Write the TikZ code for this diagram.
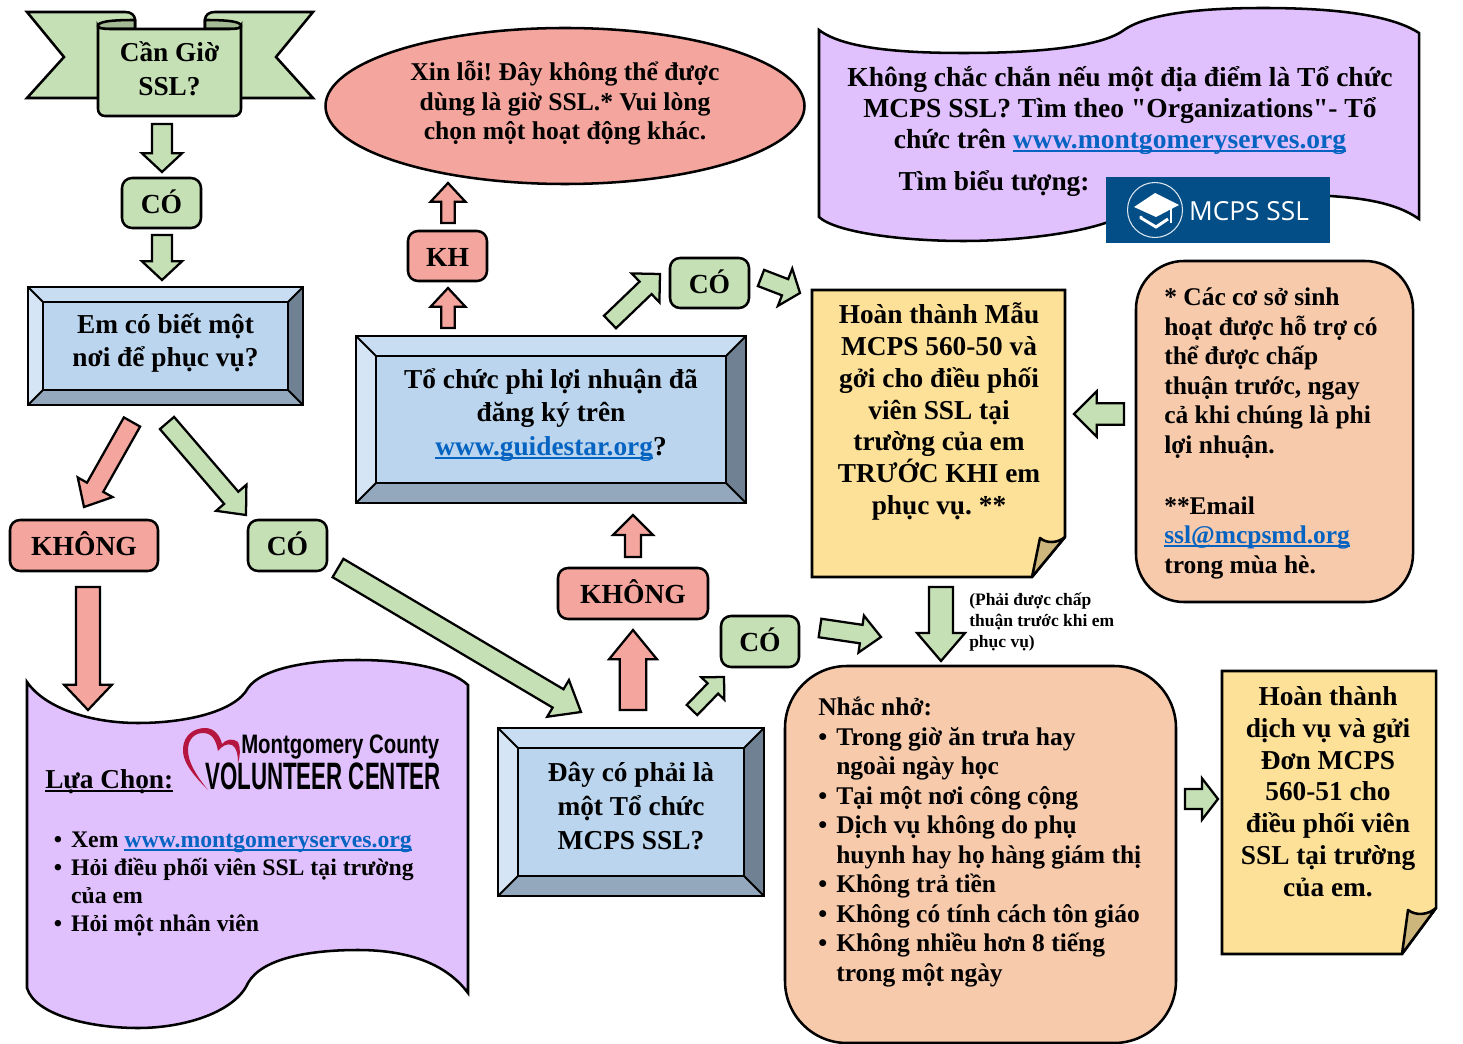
\documentclass[tikz,border=0pt]{standalone}
\usepackage{fontspec}
\setmainfont{Liberation Serif}[Ligatures=TeXOff]
\newfontfamily\logofont{Open Sans}
\newfontfamily\volfont{Liberation Sans}
\usetikzlibrary{calc,shapes.geometric}
\definecolor{gfill}{HTML}{C5E0B4}
\definecolor{gdark}{HTML}{A3BA94}
\definecolor{rfill}{HTML}{F4A69E}
\definecolor{pfill}{HTML}{E0C1FE}
\definecolor{ofill}{HTML}{F7CAAC}
\definecolor{yfill}{HTML}{FEE198}
\definecolor{yfold}{HTML}{CDB67B}
\definecolor{bface}{HTML}{BBD5EE}
\definecolor{btop}{HTML}{C8DDF2}
\definecolor{blite}{HTML}{D6E5F5}
\definecolor{bdark}{HTML}{6F8193}
\definecolor{bmid}{HTML}{93A7BD}
\definecolor{linkblue}{HTML}{0563C1}
\definecolor{logoblue}{HTML}{044E87}
\definecolor{heart}{HTML}{B5163F}
\frenchspacing
\newcommand\fs[2]{\fontsize{#1}{#2}\selectfont\bfseries}
\newcommand\lnk[1]{\begingroup\color{linkblue}\sbox0{#1}\rlap{\rule[-0.13em]{\wd0}{0.08em}}\usebox0\endgroup}
\newcommand\ulin[1]{\begingroup\sbox0{#1}\rlap{\rule[-0.16em]{\wd0}{0.08em}}\usebox0\endgroup}
\newcommand\bul{\makebox[13.5pt][l]{\textbullet}}
\newcommand\hng{\hspace*{13.5pt}}
\tikzset{
  ln/.style={draw=black,line width=1.9pt,line join=miter},
  lab/.style={ln,rounded corners=7.5pt,inner sep=0pt,font=\fs{20.7}{24},text height=15.4pt,text depth=0pt},
  greenlab/.style={lab,fill=gfill},
  redlab/.style={lab,fill=rfill},
  softbox/.style={ln,fill=ofill},
  wavedoc/.style={ln,fill=pfill},
  notedoc/.style={ln,fill=yfill,line join=miter},
  foldpart/.style={ln,fill=yfold,line join=round},
  body/.style={align=center,inner sep=0pt,font=\fs{20.5}{23.8}},
  bevelbody/.style={align=center,inner sep=0pt,font=\fs{20.5}{25.3}},
  leftbody/.style={align=left,inner sep=0pt,font=\fs{19.1}{22.1}},
}
% block arrow between two named coordinates: from,to,fill,half shaft,half head,head length (pt)
\newcommand\blockarrow[6]{%
  \coordinate (ba) at ($(#2)!#6pt!(#1)$);
  \draw[ln,fill=#3,line width=1.7pt]
    ($(#1)!#4pt!90:(#2)$) -- ($(ba)!#4pt!-90:(#1)$) -- ($(ba)!#5pt!-90:(#1)$) -- (#2)
    -- ($(ba)!#5pt!90:(#1)$) -- ($(ba)!#4pt!90:(#1)$) -- ($(#1)!#4pt!-90:(#2)$) -- cycle;}
% bevel box: name,x1,y1,x2,y2,depth,text,text y offset
\newcommand\bevel[8]{%
  \fill[btop] (#2,#3) -- (#4,#3) -- ($(#4,#3)+(-#6,#6)$) -- ($(#2,#3)+(#6,#6)$) -- cycle;
  \fill[blite] (#2,#3) -- (#2,#5) -- ($(#2,#5)+(#6,-#6)$) -- ($(#2,#3)+(#6,#6)$) -- cycle;
  \fill[bdark] (#4,#3) -- (#4,#5) -- ($(#4,#5)+(-#6,-#6)$) -- ($(#4,#3)+(-#6,#6)$) -- cycle;
  \fill[bmid] (#2,#5) -- (#4,#5) -- ($(#4,#5)+(-#6,-#6)$) -- ($(#2,#5)+(#6,-#6)$) -- cycle;
  \draw[ln,fill=bface,line width=1.5pt] ($(#2,#3)+(#6,#6)$) rectangle ($(#4,#5)+(-#6,-#6)$);
  \draw[ln,line width=1.5pt] (#2,#3) -- ($(#2,#3)+(#6,#6)$) (#4,#3) -- ($(#4,#3)+(-#6,#6)$)
     (#2,#5) -- ($(#2,#5)+(#6,-#6)$) (#4,#5) -- ($(#4,#5)+(-#6,-#6)$);
  \draw[ln] (#2,#3) rectangle (#4,#5);
  \node[bevelbody] (#1) at ($(#2,#3)!.5!(#4,#5)+(0,#8)$) {#7};}
\begin{document}
\begin{tikzpicture}[x=0.75pt,y=-0.75pt]
\useasboundingbox (0,0) rectangle (1463,1044);
\fill[white] (0,0) rectangle (1463,1044);

% ribbon
\draw[ln,fill=gfill,line join=miter] (27,12) -- (125,12) .. controls (131,12) and (135,15) .. (135,20) -- (135,40) -- (98,98) -- (27,98) -- (64,57) -- cycle;
\draw[ln,fill=gfill,line join=miter] (313,12) -- (215,12) .. controls (209,12) and (205,15) .. (205,20) -- (205,40) -- (241,98) -- (313,98) -- (276,57) -- cycle;
\draw[ln,fill=gdark] (98,26) .. controls (98,22) and (108,20) .. (135,20) -- (135,29) -- (110,29) .. controls (102,29) and (98,28) .. (98,26) -- cycle;
\draw[ln,fill=gdark] (241,26) .. controls (241,22) and (231,20) .. (205,20) -- (205,29) -- (230,29) .. controls (237,29) and (241,28) .. (241,26) -- cycle;
\draw[ln,fill=gfill] (98,26) -- (98,109) .. controls (98,113) and (101,116) .. (105,116) -- (234,116) .. controls (238,116) and (241,113) .. (241,109) -- (241,26) .. controls (241,28) and (237,29) .. (230,29) -- (110,29) .. controls (102,29) and (98,28) .. (98,26) -- cycle;
\node[body,font=\fs{20.5}{25.5}] (need) at (169.5,69) {Cần Giờ\\SSL?};

% small labels
\node[greenlab,minimum width=79*0.75pt,minimum height=50*0.75pt] (co1) at (161.5,203) {CÓ};
\node[greenlab,minimum width=79*0.75pt,minimum height=51*0.75pt] (co2) at (287.5,545.5) {CÓ};
\node[greenlab,minimum width=79*0.75pt,minimum height=50*0.75pt] (co3) at (709.5,283) {CÓ};
\node[greenlab,minimum width=78*0.75pt,minimum height=51*0.75pt] (co4) at (760,641.5) {CÓ};
\node[redlab,minimum width=148*0.75pt,minimum height=51*0.75pt] (kh1) at (84,545.5) {KHÔNG};
\node[redlab,minimum width=79*0.75pt,minimum height=50*0.75pt] (kh) at (447.5,256) {KH};
\node[redlab,minimum width=150*0.75pt,minimum height=51*0.75pt] (kh2) at (633,593.5) {KHÔNG};

% ellipse
\node[ellipse,ln,fill=rfill,minimum width=479*0.75pt,minimum height=156*0.75pt,inner sep=0pt] (sorry) at (565,106) {};
\node[align=center,inner sep=0pt,font=\fs{19.2}{22.1}] (sorrytext) at (565,103.5) {Xin lỗi! Đây không thể được\\dùng là giờ SSL.* Vui lòng\\chọn một hoạt động khác.};

% bevel boxes
\bevel{q1}{28}{287}{303}{405}{15}{Em có biết một\\nơi để phục vụ?}{-3}
\bevel{q2}{356}{336}{746}{503}{20}{Tổ chức phi lợi nhuận đã\\đăng ký trên\\\lnk{www.guidestar.org}?}{-4.5}
\bevel{q3}{498}{728}{764}{896}{20}{Đây có phải là\\một Tổ chức\\MCPS SSL?}{-6}

% top right wave doc
\draw[wavedoc] (819,30) .. controls (845,50) and (910,53) .. (964,53) .. controls (1030,53) and (1100,48) .. (1124,30) .. controls (1150,12) and (1210,8) .. (1263,8) .. controls (1330,8) and (1390,14) .. (1419,33) -- (1419,219) .. controls (1395,202) and (1360,198) .. (1330,196) .. controls (1250,192) and (1160,200) .. (1124,215) .. controls (1095,232) and (1020,241) .. (964,241) .. controls (900,241) and (835,232) .. (819,217) -- cycle;
\node[body,font=\fs{20.65}{23.4}] (unsure) at (1120,110.5) {Không chắc chắn nếu một địa điểm là Tổ chức\\MCPS SSL? Tìm theo "Organizations"- Tổ\\chức trên \lnk{www.montgomeryserves.org}};
\node[body] (findicon) at (994,184) {Tìm biểu tượng:};
\node[fill=logoblue,minimum width=224*0.75pt,minimum height=66*0.75pt,inner sep=0pt] (mcpslogo) at (1218,210) {};
\draw[white!85!logoblue,line width=0.8pt] (1155,210) circle[radius=27.5];
\fill[white] (1134,207) -- (1155,193) -- (1179,205) -- (1156,217) -- cycle;
\draw[white,line width=2.2pt] (1141,216) -- (1141,218) -- (1156,227) -- (1168,219);
\draw[white,line width=1.4pt] (1171,205) -- (1171,223);
\node[text=white,inner sep=0pt,font=\logofont\fontsize{19.7}{24}\selectfont] (mcpstext) at (1249,211) {MCPS SSL};

% yellow note 1
\draw[notedoc] (812,290) -- (1065,290) -- (1065,537) -- (1032,577) -- (812,577) -- cycle;
\draw[foldpart] (1032,577) -- (1040,538) .. controls (1047,544) and (1058,543) .. (1065,537) -- cycle;
\node[body] (form50) at (939,411.5) {Hoàn thành Mẫu\\MCPS 560-50 và\\gởi cho điều phối\\viên SSL tại\\trường của em\\TRƯỚC KHI em\\phục vụ. **};

% orange note
\draw[softbox,rounded corners=48*0.75pt] (1136,261) rectangle (1413,602);
\node[leftbody,anchor=north west] (prior) at (1164,288) {* Các cơ sở sinh\\hoạt được hỗ trợ có\\thể được chấp\\thuận trước, ngay\\cả khi chúng là phi\\lợi nhuận.\\[23.6pt]**Email\\\lnk{ssl@mcpsmd.org}\\trong mùa hè.};

% small note
\node[align=left,inner sep=0pt,anchor=north west,font=\fs{13.1}{15.7}] (approved) at (969,593) {(Phải được chấp\\thuận trước khi em\\phục vụ)};

% reminders
\draw[softbox,rounded corners=62*0.75pt] (785,666) rectangle (1176,1043);
\node[leftbody,anchor=north west] (remind) at (818,697) {Nhắc nhở:\\\bul Trong giờ ăn trưa hay\\\hng ngoài ngày học\\\bul Tại một nơi công cộng\\\bul Dịch vụ không do phụ\\\hng huynh hay họ hàng giám thị\\\bul Không trả tiền\\\bul Không có tính cách tôn giáo\\\bul Không nhiều hơn 8 tiếng\\\hng trong một ngày};

% yellow note 2
\draw[notedoc] (1222,671) -- (1436,671) -- (1436,908) -- (1402,954) -- (1222,954) -- cycle;
\draw[foldpart] (1402,954) -- (1408,910) .. controls (1416,916) and (1428,915) .. (1436,908) -- cycle;
\node[body] (form51) at (1328,791.5) {Hoàn thành\\dịch vụ và gửi\\Đơn MCPS\\560-51 cho\\điều phối viên\\SSL tại trường\\của em.};

% bottom left wave doc
\draw[wavedoc] (27,682) .. controls (45,708) and (90,723) .. (138,723) .. controls (185,723) and (235,712) .. (248,688) .. controls (262,668) and (310,660) .. (358,660) .. controls (405,660) and (450,668) .. (468,685) -- (468,993) .. controls (445,962) and (405,950) .. (358,950) .. controls (310,950) and (262,958) .. (248,983) .. controls (235,1012) and (185,1028) .. (138,1028) .. controls (90,1028) and (35,1015) .. (27,988) -- cycle;
\node[inner sep=0pt,anchor=base west,font=\fs{20.5}{24}] (choice) at (45,788) {\ulin{Lựa Chọn:}};
\node[inner sep=0pt,anchor=north west,align=left,font=\fs{17.8}{21}] (options) at (53.5,832) {\makebox[13pt][l]{\textbullet}Xem \lnk{www.montgomeryserves.org}\\\makebox[13pt][l]{\textbullet}Hỏi điều phối viên SSL tại trường\\\hspace*{13pt}của em\\\makebox[13pt][l]{\textbullet}Hỏi một nhân viên};

% volunteer centre logo
\fill[heart] (208,790) .. controls (190,772) and (182,760) .. (183,748) .. controls (184,735) and (194,728) .. (205,728) .. controls (214,728) and (220,735) .. (222,744) .. controls (226,739) and (233,738) .. (238,742) .. controls (241,748) and (240,757) .. (238,763) .. controls (238,755) and (237,748) .. (232,745) .. controls (227,743) and (222,746) .. (218,751) .. controls (216,740) and (212,733) .. (203,733) .. controls (194,733) and (188,740) .. (188,750) .. controls (188,762) and (196,775) .. (208,790) -- cycle;
\node[inner sep=0pt,anchor=base west] (vc1) at (241,753) {\resizebox{148.5pt}{14pt}{\volfont\bfseries Montgomery County}};
\node[inner sep=0pt,anchor=base west] (vc2) at (205,789) {\resizebox{176.5pt}{20pt}{\volfont\bfseries VOLUNTEER CENTER}};

% block arrows
\coordinate (a1s) at (162,124); \coordinate (a1e) at (162,172);
\blockarrow{a1s}{a1e}{gfill}{7.5}{15}{14}
\coordinate (a2s) at (162,235); \coordinate (a2e) at (162,280);
\blockarrow{a2s}{a2e}{gfill}{7.5}{15}{14}
\coordinate (a3s) at (132,422); \coordinate (a3e) at (84,507);
\blockarrow{a3s}{a3e}{rfill}{7}{15}{17}
\coordinate (a4s) at (167,423); \coordinate (a4e) at (246,515);
\blockarrow{a4s}{a4e}{gfill}{7}{15}{17}
\coordinate (a5s) at (88,587); \coordinate (a5e) at (88,710);
\blockarrow{a5s}{a5e}{rfill}{9}{18}{19}
\coordinate (a6s) at (338,568); \coordinate (a6e) at (581,712);
\blockarrow{a6s}{a6e}{gfill}{8}{16}{20}
\coordinate (a7s) at (633,710); \coordinate (a7e) at (633,630);
\blockarrow{a7s}{a7e}{rfill}{10}{18}{22}
\coordinate (a8s) at (692,710); \coordinate (a8e) at (724,677);
\blockarrow{a8s}{a8e}{gfill}{5.5}{12}{12}
\coordinate (a9s) at (820,628); \coordinate (a9e) at (881,637);
\blockarrow{a9s}{a9e}{gfill}{7}{14}{15}
\coordinate (a10s) at (941,587); \coordinate (a10e) at (941,661);
\blockarrow{a10s}{a10e}{gfill}{9}{18}{21}
\coordinate (a11s) at (633,557); \coordinate (a11e) at (633,515);
\blockarrow{a11s}{a11e}{rfill}{6}{15}{15}
\coordinate (a12s) at (448,328); \coordinate (a12e) at (448,288);
\blockarrow{a12s}{a12e}{rfill}{5}{13}{14}
\coordinate (a13s) at (448,223); \coordinate (a13e) at (448,183);
\blockarrow{a13s}{a13e}{rfill}{5}{13}{14}
\coordinate (a14s) at (610,322); \coordinate (a14e) at (660,274);
\blockarrow{a14s}{a14e}{gfill}{6.5}{15}{15}
\coordinate (a15s) at (761,278); \coordinate (a15e) at (800,293);
\blockarrow{a15s}{a15e}{gfill}{6.5}{15}{12}
\coordinate (a16s) at (1124,414); \coordinate (a16e) at (1074,414);
\blockarrow{a16s}{a16e}{gfill}{8}{17}{17}
\coordinate (a17s) at (1185,799); \coordinate (a17e) at (1218,799);
\blockarrow{a17s}{a17e}{gfill}{7.5}{15.5}{12}
\end{tikzpicture}
\end{document}
